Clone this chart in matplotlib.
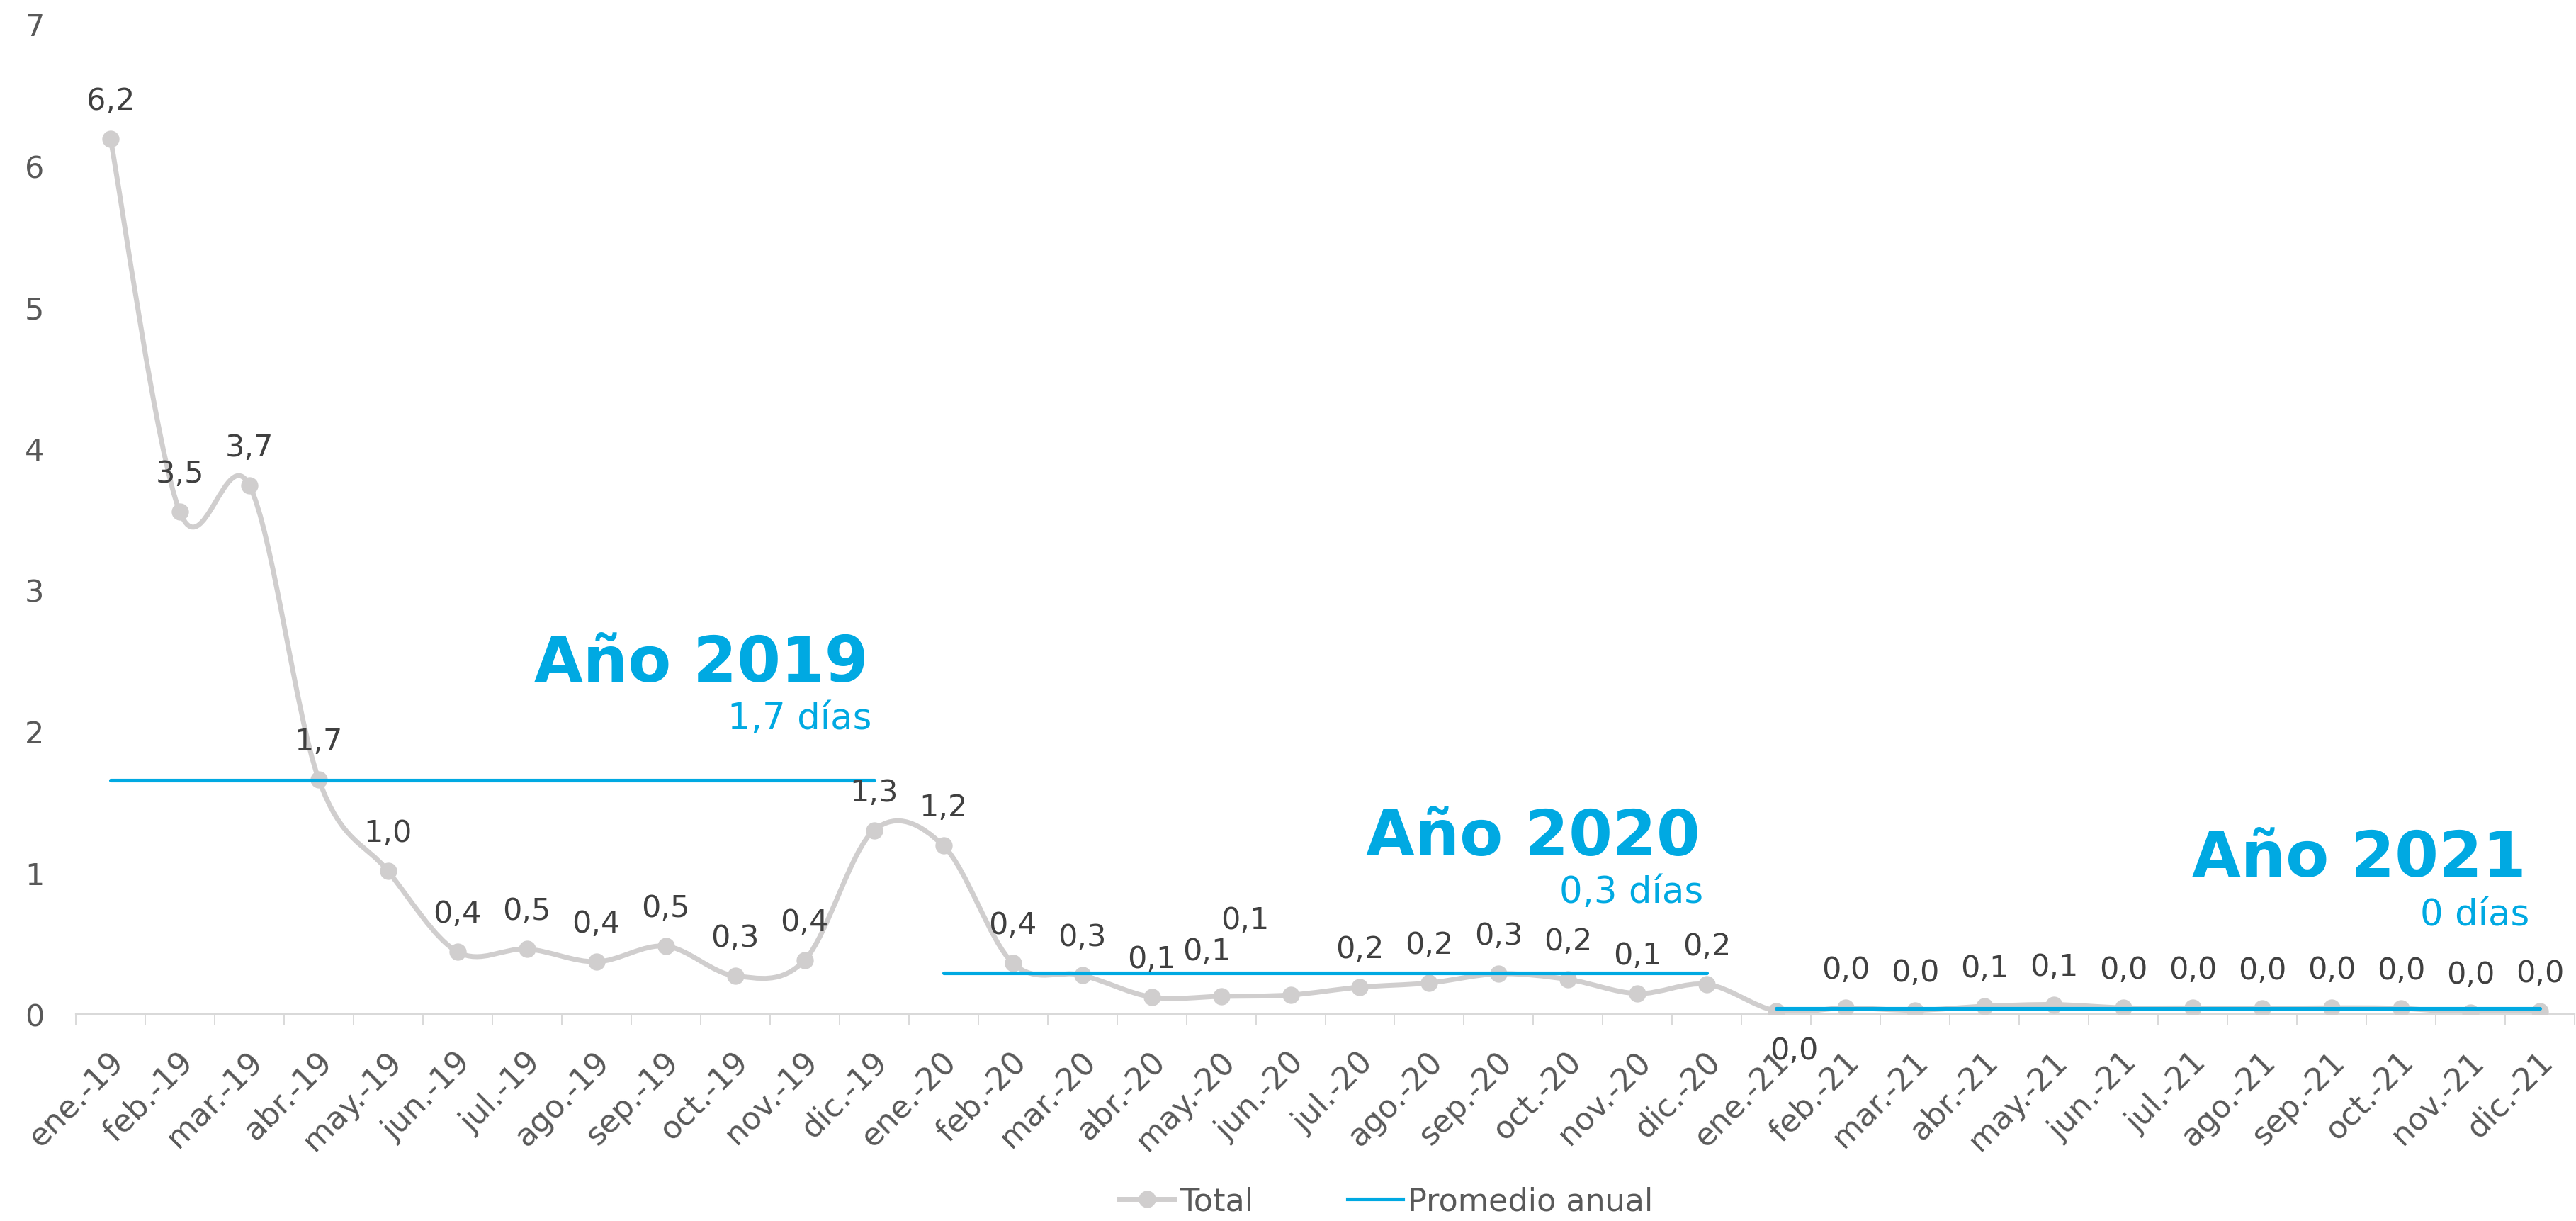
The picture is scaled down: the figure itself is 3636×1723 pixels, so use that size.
import matplotlib
matplotlib.use("Agg")
import matplotlib.pyplot as plt
import matplotlib.transforms as mtransforms
from matplotlib.path import Path
from matplotlib.patches import PathPatch
from matplotlib.lines import Line2D
import numpy as np

# data
months = ["ene.-19", "feb.-19", "mar.-19", "abr.-19", "may.-19", "jun.-19",
          "jul.-19", "ago.-19", "sep.-19", "oct.-19", "nov.-19", "dic.-19",
          "ene.-20", "feb.-20", "mar.-20", "abr.-20", "may.-20", "jun.-20",
          "jul.-20", "ago.-20", "sep.-20", "oct.-20", "nov.-20", "dic.-20",
          "ene.-21", "feb.-21", "mar.-21", "abr.-21", "may.-21", "jun.-21",
          "jul.-21", "ago.-21", "sep.-21", "oct.-21", "nov.-21", "dic.-21"]
total = [6.19, 3.55, 3.74, 1.66, 1.01, 0.44, 0.46, 0.37, 0.48, 0.27, 0.38, 1.30,
         1.19, 0.36, 0.275, 0.12, 0.125, 0.135, 0.19, 0.22, 0.285, 0.245, 0.145, 0.21,
         0.022, 0.043, 0.027, 0.055, 0.067, 0.044, 0.043, 0.04, 0.044, 0.04, 0.01, 0.02]
year_titles = ["Año 2019", "Año 2020", "Año 2021"]
year_subtitles = ["1,7 días", "0,3 días", "0 días"]
months_per_year = 12

GRAY = "#D0CECE"
BLUE = "#00A9E2"
TXT = "#404040"
AX_TXT = "#595959"
AXIS = "#D9D9D9"

plt.rcParams['font.family'] = ['DejaVu Sans']


def smooth_path(x, y):
    # excel-like smoothed line: catmull-rom segments as cubic beziers
    verts = [(x[0], y[0])]
    codes = [Path.MOVETO]
    n = len(x)
    for i in range(n - 1):
        x0, y0 = (x[i - 1], y[i - 1]) if i > 0 else (x[i], y[i])
        x3, y3 = (x[i + 2], y[i + 2]) if i + 2 < n else (x[i + 1], y[i + 1])
        c1 = (x[i] + (x[i + 1] - x0) / 6, y[i] + (y[i + 1] - y0) / 6)
        c2 = (x[i + 1] - (x3 - x[i]) / 6, y[i + 1] - (y3 - y[i]) / 6)
        verts += [c1, c2, (x[i + 1], y[i + 1])]
        codes += [Path.CURVE4] * 3
    return Path(verts, codes)


fig = plt.figure(figsize=(36.37, 17.24), dpi=100)
ax = fig.add_axes([0.0294, 0.1694, 0.9698, 0.8103])

xs = np.arange(len(months))
vals = np.array(total)

ax.add_patch(PathPatch(smooth_path(xs, vals), facecolor="none", edgecolor=GRAY,
                       lw=5, capstyle="round", joinstyle="round", zorder=2))
ax.plot(xs, vals, "o", color=GRAY, ms=16.5, mec=GRAY, zorder=3)

# yearly averages
for k in range(len(year_titles)):
    sl = slice(k * months_per_year, (k + 1) * months_per_year)
    avg = vals[sl].mean()
    ax.plot([xs[sl][0], xs[sl][-1]], [avg, avg], color=BLUE, lw=3.7,
            solid_capstyle="round", zorder=4)

# data labels
label_shift = {16: (-20, 64), 17: (-64, 106), 24: (25, -55)}  # in pixels
for i, v in enumerate(vals):
    dx, dy = label_shift.get(i, (0, 54))
    ax.annotate(f"{v:.1f}".replace(".", ","), (xs[i], v),
                xytext=(dx * 0.72, dy * 0.72), textcoords="offset points",
                ha="center", va="center", fontsize=31, color=TXT, zorder=5)

# year annotations
title_pos = [(10.92, 2.48, 2.09), (22.9, 1.25, 0.86), (34.8, 1.10, 0.70)]
for (tx, ty, sy), t, s in zip(title_pos, year_titles, year_subtitles):
    ax.text(tx, ty, t, ha="right", va="center", fontsize=64, fontweight="bold",
            color=BLUE, zorder=6)
    ax.text(tx + 0.05, sy, s, ha="right", va="center", fontsize=37, color=BLUE, zorder=6)

ax.set_xlim(-0.5, len(months) - 0.5)
ax.set_ylim(0, 7)
ax.set_yticks(range(0, 8))
ax.tick_params(axis="y", length=0, pad=32, labelsize=31, labelcolor=AX_TXT)
for sp in ["top", "right", "left"]:
    ax.spines[sp].set_visible(False)
ax.spines["bottom"].set_color(AXIS)
ax.spines["bottom"].set_linewidth(1.6)

ax.set_xticks(xs)
ax.set_xticklabels(months, rotation=45, ha="right", va="center",
                   rotation_mode="anchor", fontsize=32, color=AX_TXT)
ax.tick_params(axis="x", which="major", length=0, pad=43)
ax.set_xticks(np.arange(-0.5, len(months), 1), minor=True)
ax.tick_params(axis="x", which="minor", length=11, width=1.4, color=AXIS)
shift = mtransforms.ScaledTranslation(0.12, 0, fig.dpi_scale_trans)
for lab in ax.get_xticklabels():
    lab.set_transform(lab.get_transform() + shift)

handles = [Line2D([], [], color=GRAY, lw=5, marker="o", ms=16.5),
           Line2D([], [], color=BLUE, lw=3.7)]
fig.legend(handles, ["Total", "Promedio anual"], loc="center",
           bbox_to_anchor=(0.538, 0.016), ncol=2, frameon=False, fontsize=32,
           handlelength=1.75, handletextpad=0.15, columnspacing=3.0,
           labelcolor=AX_TXT)

fig.savefig("out.png", dpi=100)
